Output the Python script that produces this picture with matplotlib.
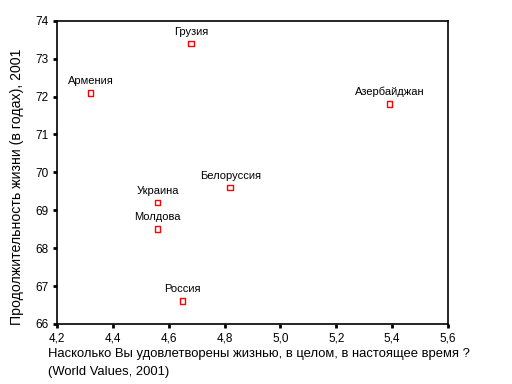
import numpy as np
import matplotlib
matplotlib.use('Agg')
import matplotlib.pyplot as plt
from matplotlib.ticker import FuncFormatter

plt.rcParams['font.family'] = ['Liberation Sans', 'DejaVu Sans']

countries = ['Грузия', 'Армения', 'Азербайджан', 'Белоруссия', 'Украина', 'Молдова', 'Россия']
satisfaction = [4.68, 4.32, 5.39, 4.82, 4.56, 4.56, 4.65]
life_exp = [73.4, 72.1, 71.8, 69.6, 69.2, 68.5, 66.6]

fig = plt.figure(figsize=(5.12, 3.84), dpi=100)
ax = fig.add_axes([57/512, 1 - 324/384, (448-57)/512, (324-20.7)/384])

ax.scatter(satisfaction, life_exp, marker='s', s=16, facecolors='none',
           edgecolors='red', linewidths=1.0, zorder=3)
for name, x, y in zip(countries, satisfaction, life_exp):
    ax.annotate(name, (x, y), xytext=(0, 5), textcoords='offset points',
                ha='center', va='bottom', fontsize=8)

ax.set_xlim(4.2, 5.6)
ax.set_ylim(66, 74)
ax.set_xticks(np.arange(4.2, 5.61, 0.2))
ax.set_yticks(np.arange(66, 74.1, 1))
ax.xaxis.set_major_formatter(FuncFormatter(lambda v, p: ('%.1f' % v).replace('.', ',')))
ax.yaxis.set_major_formatter(FuncFormatter(lambda v, p: '%d' % v))
ax.tick_params(direction='out', length=3, width=2, labelsize=8.5, pad=3)
for s in ax.spines.values():
    s.set_linewidth(1.2)

fig.text(17/512, 1 - 187/384, 'Продолжительность жизни (в годах), 2001',
         fontsize=10.2, rotation=90, ha='center', va='center')
fig.text(48/512, 1 - 354/384, 'Насколько Вы удовлетворены жизнью, в целом, в настоящее время ?',
         fontsize=9.4, ha='left', va='center')
fig.text(48/512, 1 - 372/384, '(World Values, 2001)', fontsize=9.4, ha='left', va='center')

fig.savefig('out.png', dpi=100)
